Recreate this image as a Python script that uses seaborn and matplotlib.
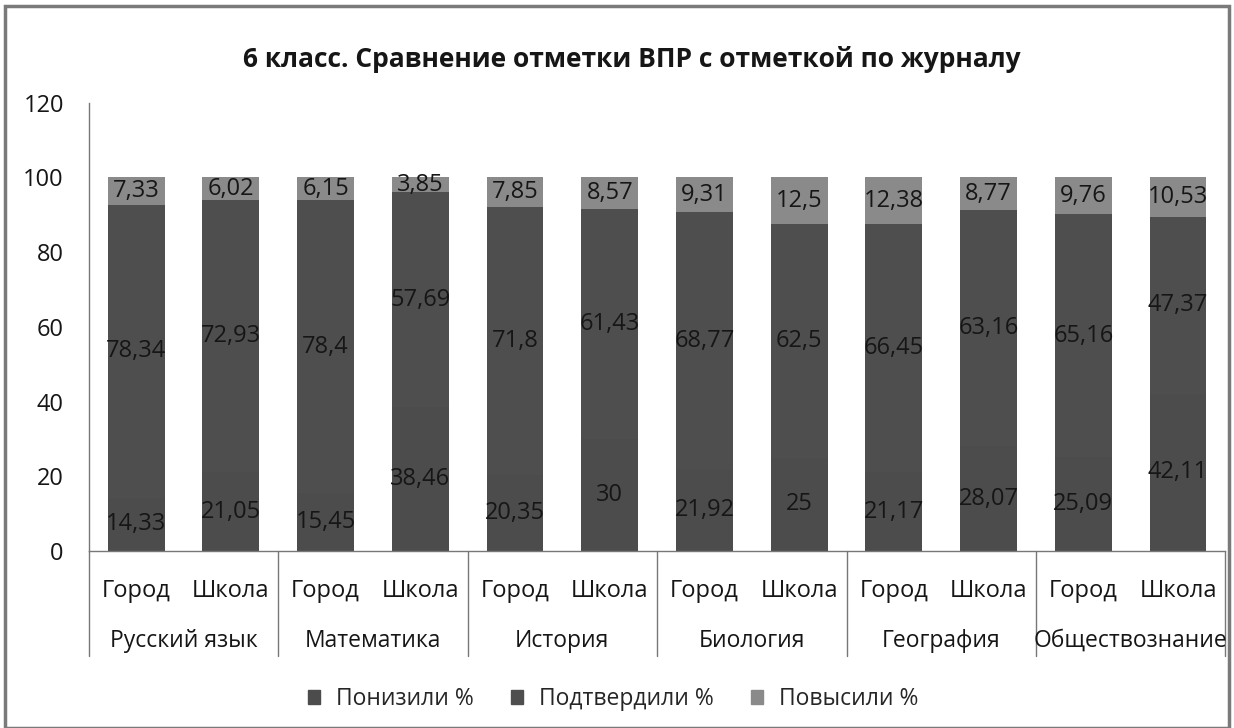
import numpy as np
import pandas as pd
import matplotlib
matplotlib.use("Agg")
import matplotlib.pyplot as plt
import matplotlib.transforms as mtransforms
from matplotlib.patches import Rectangle, Patch
import seaborn as sns

sns.set_theme(style="white")
plt.rcParams["font.family"] = ["Open Sans", "DejaVu Sans"]

# ---------------------------------------------------------------------------
# data
# ---------------------------------------------------------------------------
subjects = ["Русский язык", "Математика", "История", "Биология", "География", "Обществознание"]
levels = ["Город", "Школа"]
lowered = [14.33, 21.05, 15.45, 38.46, 20.35, 30, 21.92, 25, 21.17, 28.07, 25.09, 42.11]
confirmed = [78.34, 72.93, 78.4, 57.69, 71.8, 61.43, 68.77, 62.5, 66.45, 63.16, 65.16, 47.37]
raised = [7.33, 6.02, 6.15, 3.85, 7.85, 8.57, 9.31, 12.5, 12.38, 8.77, 9.76, 10.53]
series_names = ["Понизили %", "Подтвердили %", "Повысили %"]

DARK_LOW = "#4c4c4c"
DARK_MID = "#4e4e4e"
LIGHT_TOP = "#8a8a8a"
TXT = "#161616"

keys = [f"{s}|{l}" for s in subjects for l in levels]
df = pd.DataFrame({"key": keys, "low": lowered, "mid": confirmed, "top": raised})
df["c1"] = df["low"]
df["c2"] = df["low"] + df["mid"]
df["c3"] = df["c2"] + df["top"]

fig = plt.figure(figsize=(12.34, 7.28), dpi=100)
ax = fig.add_axes([0.072, 0.243, 0.921, 0.616])

# stacked bars drawn from the tallest cumulative layer down
for col, color in [("c3", LIGHT_TOP), ("c2", DARK_MID), ("c1", DARK_LOW)]:
    sns.barplot(data=df, x="key", y=col, order=keys, color=color, width=0.6,
                saturation=1, linewidth=0, ax=ax)

def fmt(v):
    return f"{v:g}".replace(".", ",")

for i in range(len(keys)):
    parts = [(0, lowered[i]), (lowered[i], confirmed[i]), (lowered[i] + confirmed[i], raised[i])]
    for base, h in parts:
        ax.text(i, base + h / 2, fmt(h), ha="center", va="center", fontsize=17, color=TXT)

ax.set_ylim(0, 120)
ax.set_xlim(-0.5, len(keys) - 0.5)
ax.set_yticks(np.arange(0, 121, 20))
ax.tick_params(axis="y", labelsize=17, length=0, pad=18, colors=TXT)
ax.set_xticks([])
ax.set_xlabel("")
ax.set_ylabel("")
for s in ["top", "right"]:
    ax.spines[s].set_visible(False)
ax.spines["left"].set_color("#777777")
ax.spines["bottom"].set_color("#777777")
ax.spines["left"].set_linewidth(1)
ax.spines["bottom"].set_linewidth(1)

# two-level category axis
trans = mtransforms.blended_transform_factory(ax.transData, ax.transAxes)
for i, k in enumerate(keys):
    ax.text(i, -0.09, k.split("|")[1], transform=trans, ha="center", va="center",
            fontsize=17, color=TXT)
for g, s in enumerate(subjects):
    ax.text(2 * g + 0.5, -0.2, s, transform=trans, ha="center", va="center",
            fontsize=16.5, color=TXT)
for g in range(len(subjects) + 1):
    x = 2 * g - 0.5
    ax.plot([x, x], [0, -0.235], transform=trans, color="#777777", lw=1, clip_on=False)

ax.set_title("6 класс. Сравнение отметки ВПР с отметкой по журналу",
             fontsize=19, fontweight="bold", pad=26, color=TXT, x=0.478)

handles = [Patch(color=c) for c in [DARK_LOW, DARK_MID, LIGHT_TOP]]
fig.legend(handles, series_names, loc="center", bbox_to_anchor=(0.497, 0.04), ncol=3,
           frameon=False, fontsize=16.5, handlelength=0.55, handleheight=0.55,
           columnspacing=1.6, handletextpad=0.7)

# outer frame
fig.patches.append(Rectangle((0.004, 0.0), 0.992, 0.992, transform=fig.transFigure,
                             fill=False, edgecolor="#7a7a7a", lw=2.5))

fig.savefig("out.png", dpi=100)
